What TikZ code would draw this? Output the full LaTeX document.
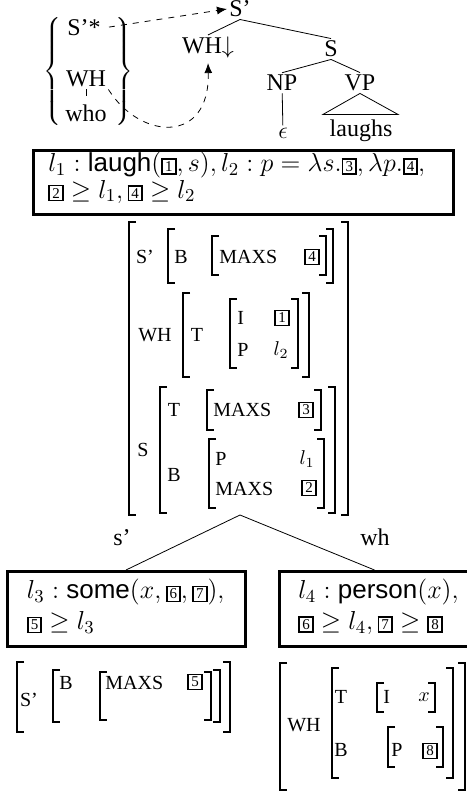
\RequirePackage{fix-cm}
\documentclass[tikz,border=0pt]{standalone}
\usepackage{amsmath}
\usepackage[no-math]{fontspec}
\setmainfont{Liberation Serif}
\setsansfont{Liberation Sans}
\usetikzlibrary{arrows.meta}

% boxed tag
\newcommand{\tg}[1]{{\setlength{\fboxsep}{0.8pt}\setlength{\fboxrule}{0.9pt}\fbox{\fontsize{7.5}{8}\selectfont\makebox[4.2pt]{#1}}}}
% square brackets of an avm: left x, right x, top y, bottom y
\newcommand{\avmbr}[4]{%
  \draw[brk] (#1+7,#3) -- (#1,#3) -- (#1,#4) -- (#1+7,#4);
  \draw[brk] (#2-7,#3) -- (#2,#3) -- (#2,#4) -- (#2-7,#4);}

\begin{document}
\begin{tikzpicture}[x=0.5pt,y=-0.5pt,
    tr/.style={font=\fontsize{12}{14}\selectfont,inner sep=1pt},
    ft/.style={font=\fontsize{10}{12}\selectfont,inner sep=0pt},
    sem/.style={draw,line width=1.5pt,inner sep=0pt},
    semtxt/.style={align=left,inner sep=0pt,anchor=west},
    brk/.style={line width=0.8pt},
    mv/.style={dashed,-{Latex[length=5pt,width=4pt]}}]
    \useasboundingbox (0,0) rectangle (466,792);

    % elementary trees
    \node[tr] (sstar) at (84,28) {S'*};
    \node[tr] (wh) at (86,79) {WH};
    \node[tr] (who) at (86,113) {who};
    \node[inner sep=0pt] (lbr) at (54,72) {$\left\{\vrule height 31pt depth 26pt width 0pt\right.$};
    \node[inner sep=0pt] (rbr) at (123,72) {$\left.\vrule height 31pt depth 26pt width 0pt\right\}$};
    \draw[shorten >=3pt] (wh) -- (who);

    \node[tr] (sbar) at (240,9) {S'};
    \node[tr] (whf) at (208,48) {WH$\downarrow$};
    \node[tr] (s) at (331,49) {S};
    \node[tr] (np) at (282,83) {NP};
    \node[tr] (vp) at (360,83) {VP};
    \node[tr] (eps) at (283,133) {$\epsilon$};
    \node[tr] (laughs) at (361,131) {laughs};
    \draw (sbar.south) -- (whf.north);
    \draw (sbar.south) -- (s.north);
    \draw (s.south) -- (np.north);
    \draw (s.south) -- (vp.north);
    \draw (np) -- (eps);
    \draw (vp.south) -- ++(-37,21) -- ++(75,0) -- cycle;

    % substitution and adjunction
    \draw[mv,shorten <=3pt] (sstar.east) -- (sbar.west);
    \draw[mv,shorten >=1pt] (wh.south east) .. controls (140,140) and (210,145) .. (whf.south);

    % semantics of the derived tree
    \node[sem,minimum width=210pt,minimum height=32pt,anchor=north west] (sem1) at (32,149) {};
    \node[semtxt,font=\fontsize{13}{11}\selectfont] (sem1t) at ([xshift=8pt,yshift=2.5pt]sem1.west)
        {$l_1:\textsf{laugh}(\tg{1},s), l_2:p=\lambda s.\tg{3},\lambda p.\tg{4},$\\
         $\tg{2}\geq l_1,\tg{4}\geq l_2$};

    \avmbr{129}{348}{222}{515}
    \avmbr{168}{333}{229}{283}
    \avmbr{212}{326}{236}{275}
    \avmbr{183}{309}{293}{377}
    \avmbr{230}{298}{299}{368}
    \avmbr{160}{335}{387}{513}
    \avmbr{207}{321}{390}{430}
    \avmbr{209}{324}{439}{508}
    \node[ft] (fs1) at (145,257) {S'};
    \node[ft] (fb1) at (181,257) {B};
    \node[ft,anchor=west] (fm1) at (219,257) {MAXS};
    \node[ft] (ft4) at (312,257) {\tg{4}};
    \node[ft] (fwh) at (155,335) {WH};
    \node[ft] (ft1a) at (197,335) {T};
    \node[ft,anchor=west] (fi) at (237,318) {I};
    \node[ft] (ft1) at (282,318) {\tg{1}};
    \node[ft,anchor=west] (fp1) at (237,350) {P};
    \node[ft] (fl2) at (281,350) {$l_2$};
    \node[ft] (fs) at (143,450) {S};
    \node[ft] (ft2) at (174,410) {T};
    \node[ft,anchor=west] (fm2) at (213,410) {MAXS};
    \node[ft] (ft3) at (306,410) {\tg{3}};
    \node[ft] (fb2) at (174,475) {B};
    \node[ft,anchor=west] (fp2) at (215,459) {P};
    \node[ft] (fl1) at (307,459) {$l_1$};
    \node[ft,anchor=west] (fm3) at (215,489) {MAXS};
    \node[ft] (ft2b) at (309,488) {\tg{2}};

    % daughters
    \coordinate (split) at (240,515);
    \node[tr] (lsbar) at (122,538) {s'};
    \node[tr] (lwh) at (375,537) {wh};
    \node[sem,minimum width=119pt,minimum height=37.5pt,anchor=north] (sem3) at (126,570) {};
    \node[sem,minimum width=100pt,minimum height=37.5pt,anchor=north west] (sem4) at (278,570) {};
    \draw (split) -- (sem3.north);
    \draw (split) -- ([xshift=-2.5pt]sem4.north);
    \node[semtxt,font=\fontsize{13}{15.5}\selectfont] (sem3t) at ([xshift=10.5pt,yshift=1.2pt]sem3.west)
        {$l_3:\textsf{some}(x,\tg{6},\tg{7}),$\\ $\tg{5}\geq l_3$};
    \node[semtxt,font=\fontsize{13}{15.5}\selectfont] (sem4t) at ([xshift=10pt,yshift=1.2pt]sem4.west)
        {$l_4:\textsf{person}(x),$\\ $\tg{6}\geq l_4,\tg{7}\geq\tg{8}$};

    \avmbr{17}{230}{662}{732}
    \avmbr{53}{220}{670}{722}
    \avmbr{100}{211}{672}{720}
    \node[ft] (gs) at (29,700) {S'};
    \node[ft] (gb) at (66,683) {B};
    \node[ft,anchor=west] (gm) at (105,683) {MAXS};
    \node[ft] (gt5) at (195,682) {\tg{5}};

    \avmbr{280}{465}{663}{790}
    \avmbr{332}{453}{668}{778}
    \avmbr{377}{435}{683}{712}
    \avmbr{388}{443}{727}{767}
    \node[ft] (hwh) at (304,725) {WH};
    \node[ft] (ht) at (341,697) {T};
    \node[ft,anchor=west] (hi) at (383,697) {I};
    \node[ft] (hx) at (424,697) {$x$};
    \node[ft] (hb) at (341,750) {B};
    \node[ft,anchor=west] (hp) at (391,750) {P};
    \node[ft] (ht8) at (430,751) {\tg{8}};
\end{tikzpicture}
\end{document}
